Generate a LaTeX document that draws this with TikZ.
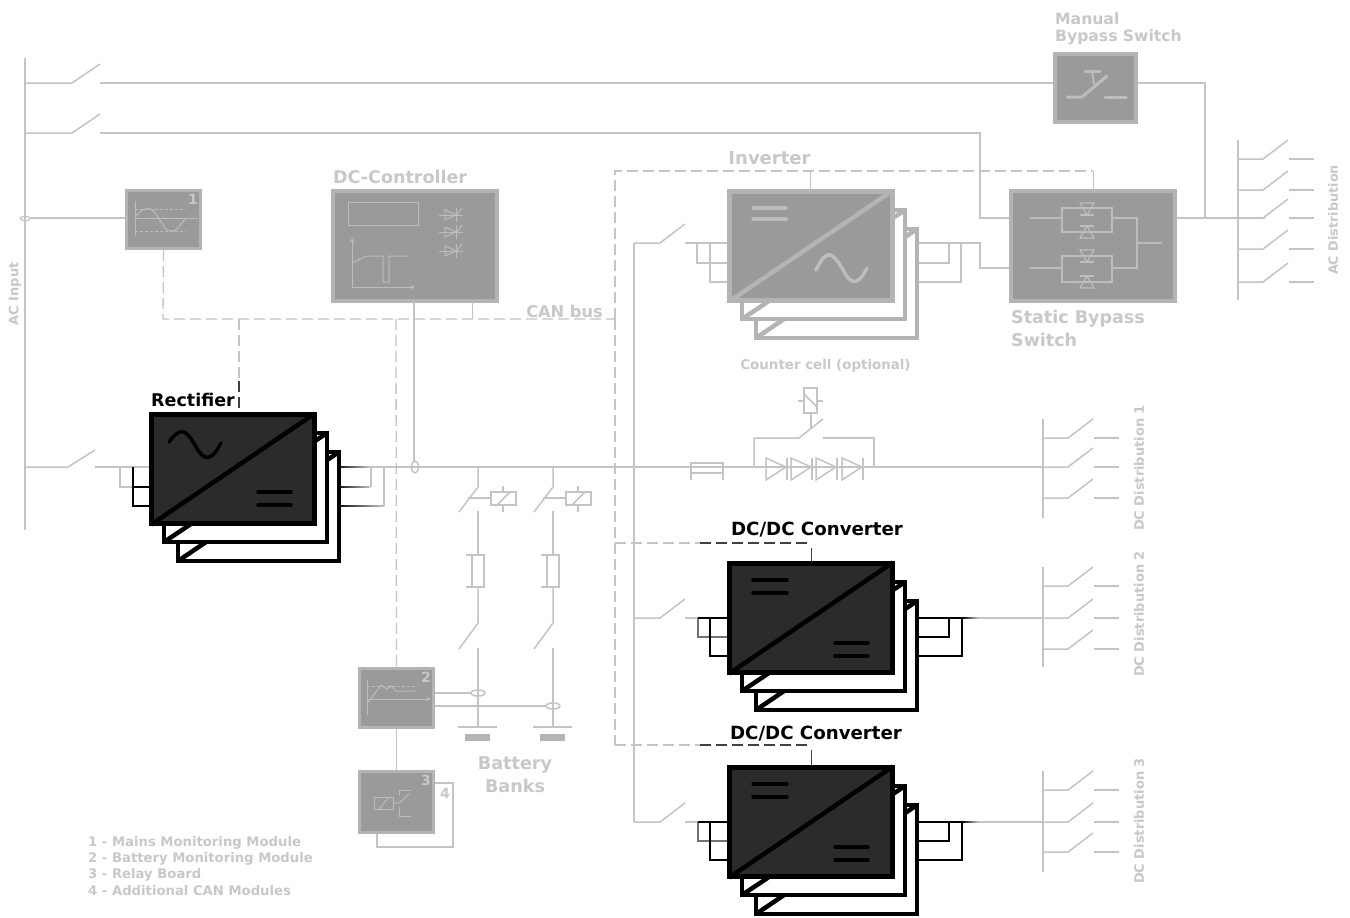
\documentclass[tikz,border=0pt]{standalone}
\usepackage{fontspec}
\setmainfont{DejaVu Sans}
\usetikzlibrary{calc}
\definecolor{wire}{HTML}{C4C4C4}
\definecolor{blockfill}{HTML}{9A9A9A}
\definecolor{blockedge}{HTML}{B4B4B4}
\definecolor{labelgray}{HTML}{C8C8C8}
\definecolor{darkfill}{HTML}{2B2B2B}
\definecolor{symgray}{HTML}{BDBDBD}
\tikzset{
  wireline/.style={draw=wire,line width=1.5pt},
  thinblk/.style={draw=black,line width=1.5pt},
  can/.style={draw=wire,line width=1.3pt,dash pattern=on 11pt off 5pt},
  candark/.style={draw=black!75,line width=1.3pt,dash pattern=on 11pt off 5pt},
  graybox/.style={draw=blockedge,fill=blockfill,line width=3pt,inner sep=0pt,minimum width=#1},
  sym/.style={draw=symgray,line width=1pt},
  symthick/.style={draw=symgray,line width=3.5pt,line cap=round},
  lab/.style={text=labelgray,font=\bfseries\fontsize{#1}{#1}\selectfont,inner sep=0pt},
  blk/.style={text=black,font=\bfseries\fontsize{#1}{#1}\selectfont,inner sep=0pt},
}
% distribution switch: bus point, closes upward
\newcommand\distsw[2]{%
  \draw[wireline] (#1,#2) -- ++(25,0) -- ++(25,-19);
  \draw[wireline] ($(#1,#2)+(51,0)$) -- ++(25,0);}
% converter stack: name, x, y, edge colour, fill
\newcommand\convstack[5]{%
  \begin{scope}[shift={(#2,#3)}]
    \foreach \dx/\dy/\w in {27/38/163,13/19/165}{
      \draw[draw=#4,fill=white,line width=4.5pt,line join=miter] (\dx+2,\dy+2) rectangle (\dx+\w,\dy+111);
      \draw[draw=#4,line width=4.5pt,shorten <=2pt,shorten >=2pt] (\dx+2,\dy+111) -- (\dx+\w,\dy+2);
    }
    \node[draw=#4,fill=#5,line width=5pt,inner sep=0pt,minimum width=163pt,minimum height=109pt] (#1) at (84,57) {};
    \draw[draw=#4,line width=4.5pt,shorten <=2.5pt,shorten >=2.5pt] (#1.south west) -- (#1.north east);
  \end{scope}}
% small thyristor symbols
\newcommand\thyr[2]{%
  \draw[sym] (#1-12,#2) -- (#1+12,#2);
  \draw[sym] (#1-6,#2-5) -- (#1+5,#2) -- (#1-6,#2+5) -- cycle;
  \draw[sym] (#1+5,#2-7) -- (#1+5,#2+7);
  \draw[sym] (#1+5,#2+1) -- (#1+11,#2-7);}
\newcommand\sbsthyr[3]{%
  \draw[sym,line width=1.2pt] (#1-7,#2-#3*6) -- (#1+7,#2-#3*6) -- (#1,#2+#3*6) -- cycle;
  \draw[sym,line width=1.2pt] (#1-7,#2+#3*6) -- (#1+7,#2+#3*6);}
\begin{document}
\begin{tikzpicture}[x=1pt,y=-1pt]
\useasboundingbox[fill=white] (0,0) rectangle (1350,918);

% ===== nodes: blocks =====
\node[graybox=81pt,line width=4pt,minimum height=68pt] (mbs) at (1095.5,87.5) {};
\node[graybox=164pt,line width=4pt,minimum height=110pt] (sbs) at (1093,245.5) {};
\node[graybox=164pt,line width=4pt,minimum height=110pt] (dcc) at (414.5,245.5) {};
\node[graybox=74pt,minimum height=58pt] (mod1) at (163.5,219.5) {};
\node[graybox=74pt,minimum height=59pt] (mod2) at (396.5,697.5) {};
\node[graybox=74pt,minimum height=61pt] (mod3) at (396.5,802) {};

% ===== bus bars =====
\coordinate (acbt) at (25,58); \coordinate (acbb) at (25,530);
\draw[wireline] (acbt) -- (acbb);
\draw[wireline] (1238,140) -- (1238,300);
\foreach \t/\e in {419/518,567/667,771/872}{
  \draw[wireline] (1043,\t) -- (1043,\e);}
\draw[wireline] (634,243) -- (634,822);

% ===== AC input switches =====
\coordinate (s1a) at (25,83); \coordinate (s1b) at (100,83);
\coordinate (s2a) at (25,133); \coordinate (s2b) at (100,133);
\draw[wireline] (s1a) -- (72,83) -- (100,64);
\draw[wireline] (s2a) -- (72,133) -- (100,114);
\draw[wireline] (s1b) -- (s1b -| mbs.west);
\draw[wireline] (mbs.east |- s1b) -- (1205,83) -- (1205,218);
\draw[wireline] (s2b) -- (980,133) -- (980,218) -- (sbs.west |- 0,218);
\draw[wireline] (sbs.east |- 0,218) -- (1265,218);

% ===== distribution switches =====
\foreach \y in {159,190,218,249,282}{\distsw{1238}{\y}}
\foreach \y in {438,467,498}{\distsw{1043}{\y}}
\foreach \y in {586,618,649}{\distsw{1043}{\y}}
\foreach \y in {790,822,852}{\distsw{1043}{\y}}

% ===== CAN bus =====
\coordinate (canL) at (163,319); \coordinate (canR) at (615,319);
\coordinate (canT) at (615,171); \coordinate (canTR) at (1093,171);
\draw[can] (mod1.south) -- (canL) -- (canR);
\draw[can] (canR) -- (canT) -- (canTR);
\draw[can] (615,319) -- (615,745);
\draw[can] (239,319) -- (239,380);
\draw[candark] (239,381) -- (239,412);
\draw[can] (396,319) -- (mod2.north);
\draw[wireline,line width=1pt] (472,302) -- (472,319);
\draw[wireline,line width=1pt] (810,171) -- (810,189);
\draw[wireline,line width=1pt] (1093,171) -- (1093,189);
\draw[can] (615,543) -- (700,543);
\draw[candark] (700,543) -- (811,543);
\draw[draw=black!75,line width=1pt] (811,548) -- (811,561);
\draw[can] (615,745) -- (700,745);
\draw[candark] (700,745) -- (811,745);
\draw[draw=black!75,line width=1pt] (811,750) -- (811,765);

% ===== main DC bus and rectifier connections =====
\coordinate (rsw) at (25,467);
\draw[wireline] (rsw) -- (68,467) -- (95,450);
\draw[wireline] (95,467) -- (149,467);
\draw[wireline] (370,467) -- (1043,467);
\draw[wireline] (120,467) -- (120,487) -- (149,487);
\draw[thinblk] (133,467) -- (133,506) -- (149,506);
\draw[thinblk] (133,487) -- (149,487);
\shade[left color=black,right color=wire] (335,466.2) rectangle (370,467.8);
\shade[left color=black,right color=wire] (335,486.2) rectangle (370,487.8);
\shade[left color=black,right color=wire] (335,505.2) rectangle (384,506.8);
\draw[wireline] (371,467) -- (371,487);
\draw[wireline] (384,467) -- (384,506);
\draw[wireline] (370,467) -- (384,467);

% ===== DC controller to bus sensor =====
\coordinate (sens) at (415,467);
\draw[wireline] (414,302) -- (414,461);
\draw[sym,line width=1.2pt] (sens) ellipse (3.5 and 6);

% ===== inverter connections =====
\draw[wireline] (634,243) -- (660,243) -- (685,224);
\draw[wireline] (685,243) -- (727,243);
\draw[wireline] (697,243) -- (697,263) -- (727,263);
\draw[wireline] (710,243) -- (710,282) -- (727,282);
\draw[wireline] (893,243) -- (980,243) -- (980,268) -- (sbs.west |- 0,268);
\draw[wireline] (918,263) -- (949,263) -- (949,243);
\draw[wireline] (918,282) -- (961,282) -- (961,243);

% ===== DC/DC connections =====
\foreach \y in {618,822}{
  \draw[wireline] (634,\y) -- (660,\y) -- (685,\y-19);
  \draw[wireline] (685,\y) -- (700,\y);
  \draw[thinblk,draw=black!55] (698,\y) -- (698,\y+19) -- (727,\y+19);
  \draw[thinblk] (710,\y) -- (710,\y+38) -- (727,\y+38);
  \draw[thinblk] (698,\y) -- (727,\y);
  \draw[thinblk] (893,\y) -- (962,\y);
  \draw[thinblk] (918,\y+19) -- (949,\y+19) -- (949,\y);
  \draw[thinblk] (918,\y+38) -- (962,\y+38) -- (962,\y);
  \shade[left color=black,right color=wire] (962,\y-0.8) rectangle (978,\y+0.8);
}
\draw[wireline] (978,618) -- (1043,618);
\draw[wireline] (978,822) -- (1043,822);

% ===== converter stacks =====
\convstack{rect}{149}{412}{black}{darkfill}
\convstack{inv}{727}{189}{blockedge}{blockfill}
\convstack{dcdca}{727}{561}{black}{darkfill}
\convstack{dcdcb}{727}{765}{black}{darkfill}

% symbols in converters
\draw[draw=black,line width=3.5pt,line cap=round] (169,442) .. controls (181,426) and (186,430) .. (195,445) .. controls (204,462) and (211,462) .. (221,443);
\draw[draw=black,line width=3.5pt,line cap=round] (258,492) -- (291,492) (258,505) -- (291,505);
\draw[symthick] (753,208) -- (786,208) (753,219) -- (786,219);
\draw[symthick] (816,270) .. controls (827,248) and (832,252) .. (842,268) .. controls (851,286) and (858,286) .. (867,268);
\foreach \y in {561,765}{
  \draw[draw=black,line width=3.5pt,line cap=round] (753,\y+19) -- (787,\y+19) (753,\y+32) -- (787,\y+32)
    (835,\y+82) -- (868,\y+82) (835,\y+95) -- (868,\y+95);
}

% ===== module 1 contents =====
\draw[wireline,line width=1.2pt] (31,218) -- (mod1.west |- 0,218);
\draw[wireline,line width=1.2pt] (20,218) .. controls (22,222) and (28,222) .. (31,218);
\draw[wireline,line width=1.2pt] (20,218) .. controls (22,216) and (28,216) .. (31,218);
\draw[sym] (135,201) -- (135,236);
\draw[sym] (135,218) -- (198,218);
\draw[sym,dash pattern=on 3pt off 2pt] (135,209) -- (186,209) (135,231) -- (186,231);
\draw[sym] (135,218) .. controls (141,208) and (150,205) .. (156,214) -- (165,228) .. controls (168,232) and (174,232) .. (177,229) -- (186,218);
\node[lab=14] (n1) at (193,199) {1};

% ===== DC controller contents =====
\draw[sym] (348,202) rectangle (418,225);
\draw[sym,->,>=stealth] (352,287) -- (352,238);
\draw[sym,->,>=stealth] (352,287) -- (415,287);
\draw[sym] (352,263) -- (367,256) -- (383,256) -- (383,282) -- (389,282) -- (389,256) -- (408,256);
\thyr{451}{215} \thyr{451}{232} \thyr{451}{251}

% ===== manual bypass contents =====
\draw[symthick,line width=3pt] (1067,97) -- (1082,97) -- (1107,76);
\draw[symthick,line width=3pt] (1085,71) -- (1100,71);
\draw[symthick,line width=2pt] (1092,71) -- (1094,84);
\draw[symthick,line width=3pt] (1105,97) -- (1126,97);

% ===== static bypass contents =====
\draw[sym,line width=1.2pt] (1030,218) -- (1062,218);
\draw[sym,line width=1.2pt] (1062,208) rectangle (1112,232);
\draw[sym,line width=1.2pt] (1030,268) -- (1062,268);
\draw[sym,line width=1.2pt] (1062,256) rectangle (1112,282);
\draw[sym,line width=1.2pt] (1112,218) -- (1137,218) -- (1137,268) -- (1112,268);
\draw[sym,line width=1.2pt] (1137,243) -- (1162,243);
\sbsthyr{1087}{209}{1}\sbsthyr{1087}{232}{-1}
\sbsthyr{1087}{256}{1}\sbsthyr{1087}{282}{-1}

% ===== battery branches =====
\foreach \x in {478,553}{
  \draw[wireline] (\x,467) -- (\x,487) -- (\x-19,512);
  \draw[wireline] (\x-10,498) -- (\x+13,498);
  \draw[wireline] (\x+13,492) rectangle (\x+38,505);
  \draw[wireline] (\x+19,505) -- (\x+32,492);
  \draw[wireline] (\x+25,486) -- (\x+25,492) (\x+25,505) -- (\x+25,512);
  \draw[wireline] (\x,511) -- (\x,555);
  \draw[wireline] (\x-6,555) rectangle (\x+6,587);
  \draw[wireline] (\x-12,555) -- (\x-6,555) (\x-12,587) -- (\x-6,587);
  \draw[wireline] (\x,587) -- (\x,623) -- (\x-19,649);
  \draw[wireline] (\x,648) -- (\x,727);
  \draw[wireline] (\x-20,727) -- (\x+19,727);
  \fill[blockedge] (\x-13,734) rectangle (\x+12,741);
}
\draw[wireline] (mod2.east |- 0,693) -- (471,693);
\draw[wireline] (mod2.east |- 0,706) -- (546,706);
\draw[wireline] (478,693) ellipse (7 and 3);
\draw[wireline] (553,706) ellipse (7 and 3);

% ===== module 2, 3, 4 =====
\draw[sym] (367,680) -- (367,715);
\draw[sym,->,>=stealth] (367,699) -- (431,699);
\draw[sym,dash pattern=on 3pt off 2pt] (367,686) -- (418,686);
\draw[sym] (367,704) -- (381,685) -- (387,689) -- (391,686) -- (396,691) -- (415,691);
\node[lab=14] (n2) at (426,677) {2};
\draw[wireline,line width=1.2pt] (mod2.south) -- (mod3.north);
\draw[sym] (374,797) rectangle (393,809);
\draw[sym] (379,809) -- (389,797);
\draw[sym] (393,803) -- (399,803) -- (409,794);
\draw[sym] (399,795) -- (399,790) -- (411,790);
\draw[sym] (399,807) -- (399,816) -- (411,816);
\node[lab=14] (n3) at (426,780) {3};
\node[lab=14] (n4) at (445,793) {4};
\draw[wireline,line width=2.5pt] (mod3.east |- 0,783) -- (453,783) -- (453,847) -- (377,847) -- (377,834);

% ===== counter cell =====
\draw[wireline] (754,467) -- (754,438) -- (799,438) -- (823,419);
\draw[wireline] (823,438) -- (874,438) -- (874,467);
\draw[wireline] (811,413) -- (811,428);
\draw[wireline] (804,388) rectangle (817,413);
\draw[wireline] (804,394) -- (817,407);
\draw[wireline] (798,401) -- (804,401) (817,401) -- (823,401);
\foreach \x in {766,791,816,842}{
  \draw[wireline] (\x,458) -- (\x+20,467) -- (\x,480) -- cycle;
  \draw[wireline] (\x+21,458) -- (\x+21,480);
}
% bus fuse
\draw[wireline] (691,480) -- (691,463) -- (723,463) -- (723,480);
\draw[wireline] (691,473) -- (723,473);

% ===== labels =====
\node[lab=15.6,anchor=west] (l1) at (1055,18.5) {Manual};
\node[lab=15.6,anchor=west] (l2) at (1055,37.5) {Bypass Switch};
\node[lab=18,anchor=center] (l3) at (769.5,158) {Inverter};
\node[lab=17.5,anchor=west] (l4) at (333,177) {DC-Controller};
\node[lab=16.2,anchor=center] (l5) at (564.5,311) {CAN bus};
\node[lab=17.5,anchor=west] (l6) at (1011,319) {Static Bypass};
\node[lab=17.5,anchor=west] (l7) at (1011,339.5) {Switch};
\node[lab=13.4,anchor=center] (l8) at (825.5,366) {Counter cell (optional)};
\node[blk=17.5,anchor=west] (l9) at (151,400) {Rectifier};
\node[blk=18.2,anchor=center] (l10) at (817,529.5) {DC/DC Converter};
\node[blk=18.2,anchor=center] (l11) at (816,733.5) {DC/DC Converter};
\node[lab=17.6,anchor=center] (l12) at (515,765) {Battery};
\node[lab=17.6,anchor=center] (l13) at (515,786) {Banks};
\node[lab=13,rotate=90] (l14) at (15,294) {AC Input};
\node[lab=12.8,rotate=90] (l15) at (1333,220) {AC Distribution};
\node[lab=13,rotate=90] (l16) at (1139,468) {DC Distribution 1};
\node[lab=13,rotate=90] (l17) at (1139,614) {DC Distribution 2};
\node[lab=13,rotate=90] (l18) at (1139,821) {DC Distribution 3};
\node[lab=13.2,anchor=west] (l19) at (88,843) {1 - Mains Monitoring Module};
\node[lab=13.2,anchor=west] (l20) at (88,859) {2 - Battery Monitoring Module};
\node[lab=13.2,anchor=west] (l21) at (88,875) {3 - Relay Board};
\node[lab=13.2,anchor=west] (l22) at (88,891) {4 - Additional CAN Modules};
\end{tikzpicture}
\end{document}
